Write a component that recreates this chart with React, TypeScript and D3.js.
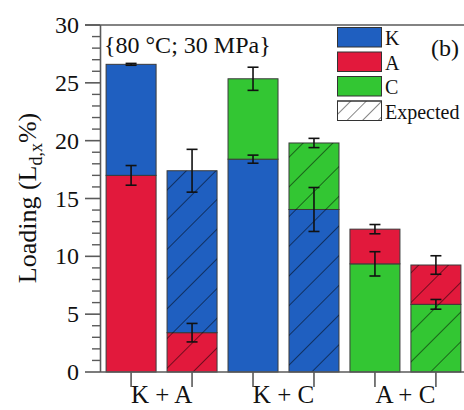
import React from "react";
import * as d3 from "d3";

// Measured and expected loadings for the three binary mixtures
const groupLabels = ["K + A", "K + C", "A + C"];
const barKeys = ["KA-meas", "KA-exp", "KC-meas", "KC-exp", "AC-meas", "AC-exp"];
const expectedFlags = [false, true, false, true, false, true];
const lowerComponent = ["A", "A", "K", "K", "C", "C"];
const lowerValues = [17.0, 3.4, 18.4, 14.05, 9.35, 5.85];
const lowerErrors = [0.85, 0.8, 0.35, 1.9, 1.05, 0.42];
const upperComponent = ["K", "K", "C", "C", "A", "A"];
const totalValues = [26.6, 17.4, 25.35, 19.8, 12.35, 9.25];
const totalErrors = [0.08, 1.85, 1.0, 0.4, 0.4, 0.8];

const legendKeys = ["K", "A", "C"];
const legendColors = ["#1f5fc0", "#e2193c", "#33c633"];
const majorTicks = [0, 5, 10, 15, 20, 25, 30];

const W = 464;
const H = 410;
const FONT =
  "'Liberation Serif', 'Times New Roman', Times, 'Nimbus Roman', 'Noto Serif', 'DejaVu Serif', serif";

export default function App() {
  const y = d3.scaleLinear().domain([0, 30]).range([372, 25]);
  const x = d3
    .scaleBand<string>()
    .domain(barKeys)
    .range([100, 467])
    .paddingInner(0.18)
    .paddingOuter(0.1);
  const color = d3.scaleOrdinal<string, string>().domain(legendKeys).range(legendColors);
  const minorTicks = d3.range(0, 31, 1).filter((v) => v % 5 !== 0);
  const bw = x.bandwidth();
  const cap = 5.5;
  const axisColor = "#5a5a5a";
  const txt = { fontFamily: FONT, fill: "#111" };

  const errorBar = (cx: number, v: number, e: number, key: string) => (
    <g key={key} stroke="#111" strokeWidth={1.6}>
      <line x1={cx} x2={cx} y1={y(v + e)} y2={y(v - e)} />
      <line x1={cx - cap} x2={cx + cap} y1={y(v + e)} y2={y(v + e)} />
      <line x1={cx - cap} x2={cx + cap} y1={y(v - e)} y2={y(v - e)} />
    </g>
  );

  return (
    <svg
      width={W}
      height={H}
      style={{ position: "absolute", left: 0, top: 0, background: "#fff", fontFamily: FONT }}
    >
      <defs>
        <pattern
          id="hatch"
          patternUnits="userSpaceOnUse"
          width={21}
          height={21}
          patternTransform="rotate(45)"
        >
          <line x1={0} y1={0} x2={0} y2={21} stroke="#000" strokeOpacity={0.7} strokeWidth={1.4} />
        </pattern>
        <pattern
          id="hatchLegend"
          patternUnits="userSpaceOnUse"
          width={11}
          height={11}
          patternTransform="rotate(45)"
        >
          <line x1={0} y1={0} x2={0} y2={11} stroke="#222" strokeWidth={1.1} />
        </pattern>
      </defs>

      {/* stacked bars */}
      {barKeys.map((k, i) => {
        const x0 = x(k)!;
        return (
          <g key={k}>
            <rect
              x={x0}
              y={y(lowerValues[i])}
              width={bw}
              height={y(0) - y(lowerValues[i])}
              fill={color(lowerComponent[i])}
              stroke="#3a3a3a"
              strokeWidth={1}
            />
            <rect
              x={x0}
              y={y(totalValues[i])}
              width={bw}
              height={y(lowerValues[i]) - y(totalValues[i])}
              fill={color(upperComponent[i])}
              stroke="#3a3a3a"
              strokeWidth={1}
            />
            {expectedFlags[i] && (
              <rect
                x={x0}
                y={y(totalValues[i])}
                width={bw}
                height={y(0) - y(totalValues[i])}
                fill="url(#hatch)"
              />
            )}
          </g>
        );
      })}

      {/* error bars */}
      {barKeys.map((k, i) => {
        const cx = x(k)! + bw / 2;
        return (
          <g key={"e" + k}>
            {errorBar(cx, lowerValues[i], lowerErrors[i], "lo")}
            {errorBar(cx, totalValues[i], totalErrors[i], "hi")}
          </g>
        );
      })}

      {/* y axis */}
      <line x1={100.5} x2={100.5} y1={y(0)} y2={y(30)} stroke={axisColor} strokeWidth={1.6} />
      <line x1={85} x2={W} y1={y(30)} y2={y(30)} stroke={axisColor} strokeWidth={1.6} />
      <line x1={100} x2={W} y1={y(0)} y2={y(0)} stroke={axisColor} strokeWidth={1.6} />
      {majorTicks.map((t) => (
        <g key={"mt" + t}>
          <line x1={85} x2={100} y1={y(t)} y2={y(t)} stroke={axisColor} strokeWidth={1.6} />
          <text x={79} y={y(t)} dy="0.34em" textAnchor="end" fontSize={24} style={txt}>
            {t}
          </text>
        </g>
      ))}
      {minorTicks.map((t) => (
        <line key={"mn" + t} x1={92} x2={100} y1={y(t)} y2={y(t)} stroke={axisColor} strokeWidth={1.4} />
      ))}

      {/* x axis ticks and group labels */}
      {barKeys.map((k) => {
        const cx = x(k)! + bw / 2;
        return <line key={"xt" + k} x1={cx} x2={cx} y1={y(0)} y2={y(0) + 15} stroke={axisColor} strokeWidth={1.6} />;
      })}
      {groupLabels.map((g, gi) => {
        const cx = (x(barKeys[gi * 2])! + x(barKeys[gi * 2 + 1])! + bw) / 2;
        return (
          <text key={g} x={cx} y={403} textAnchor="middle" fontSize={25} style={txt}>
            {g}
          </text>
        );
      })}

      {/* y axis title */}
      <text
        transform={`translate(36, 198) rotate(-90)`}
        textAnchor="middle"
        fontSize={26}
        style={txt}
      >
        Loading (L
        <tspan fontSize={18} dy={6}>d,x</tspan>
        <tspan dy={-6}>%)</tspan>
      </text>

      {/* conditions */}
      <text x={104} y={53} fontSize={24} style={txt}>
        {"{80 °C; 30 MPa}"}
      </text>

      {/* legend */}
      {legendKeys.map((k, i) => (
        <g key={"lg" + k}>
          <rect x={337.5} y={27.5 + i * 24.5} width={44} height={19.5} fill={color(k)} stroke="#333" strokeWidth={1} />
          <text x={385} y={45 + i * 24.5} fontSize={20} style={txt}>
            {k}
          </text>
        </g>
      ))}
      <rect x={337.5} y={27.5 + 3 * 24.5} width={44} height={19.5} fill="#fff" stroke="#333" strokeWidth={1} />
      <rect x={337.5} y={27.5 + 3 * 24.5} width={44} height={19.5} fill="url(#hatchLegend)" stroke="#333" strokeWidth={1} />
      <text x={385} y={45 + 3 * 24.5} fontSize={20} style={txt}>
        Expected
      </text>
      <text x={431} y={56} fontSize={24} style={txt}>
        (b)
      </text>
    </svg>
  );
}
